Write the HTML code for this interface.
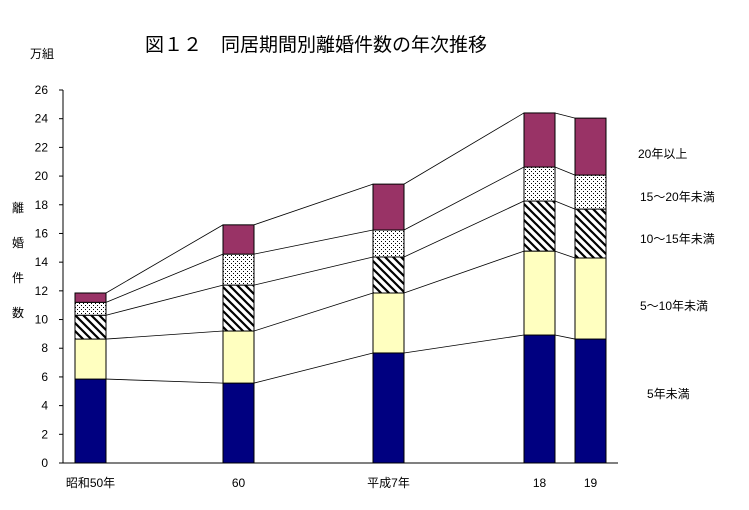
<!DOCTYPE html>
<html><head><meta charset="utf-8"><style>
body{margin:0;background:#fff}
svg text{font-family:"Liberation Sans","Noto Sans CJK JP",sans-serif;fill:#000}
</style></head><body>
<svg id="c" width="749" height="505">
<defs>
<pattern id="dots" width="4" height="4" patternUnits="userSpaceOnUse"><rect width="4" height="4" fill="#fff"/><rect x="1" y="1" width="1" height="1" fill="#000"/><rect x="3" y="3" width="1" height="1" fill="#000"/></pattern>
<pattern id="hatch" width="8" height="8" patternUnits="userSpaceOnUse"><rect width="8" height="8" fill="#fff"/><path d="M-2,-2 L10,10 M-2,6 L2,10 M6,-2 L10,2" stroke="#000" stroke-width="2.2"/></pattern>
</defs>
<text x="145" y="51" font-size="19">図１２　同居期間別離婚件数の年次推移</text>
<text x="30" y="58" font-size="12">万組</text>
<g font-size="12"><text x="12" y="212">離</text><text x="12" y="247">婚</text><text x="12" y="282">件</text><text x="12" y="317">数</text></g>
<g id="axes"></g><g id="lines"></g><g id="bars"></g>
</svg>
<script>
const categories=["昭和50年","60","平成7年","18","19"];
const lt5=[5.85,5.57,7.67,8.92,8.64];
const y5to10=[2.79,3.63,4.18,5.85,5.65];
const y10to15=[1.66,3.2,2.51,3.49,3.41];
const y15to20=[0.9,2.16,1.88,2.37,2.37];
const y20plus=[0.65,2.04,3.2,3.77,3.97];
const yTicks=[0,2,4,6,8,10,12,14,16,18,20,22,24,26];
const seriesNames=["5年未満","5～10年未満","10～15年未満","15～20年未満","20年以上"];
const series=[lt5,y5to10,y10to15,y15to20,y20plus];
const fills=["#000080","#FFFFC0","url(#hatch)","url(#dots)","#993366"];
const catX=[75,223,373,524,575];
const barW=31;
const y=v=>463-v*(373/26);
const ns="http://www.w3.org/2000/svg";
function mk(t,a,p){const e=document.createElementNS(ns,t);for(const k in a)e.setAttribute(k,a[k]);p.appendChild(e);return e;}
const axes=document.getElementById('axes'),lines=document.getElementById('lines'),bars=document.getElementById('bars');
const ax=mk('line',{x1:63,y1:y(26),x2:63,y2:463,stroke:'#000'},axes);


const bx=mk('line',{x1:63,y1:463,x2:618,y2:463,stroke:'#000'},axes);


yTicks.forEach(v=>{
 mk('line',{x1:59,x2:63,y1:y(v),y2:y(v),stroke:'#000'},axes);
 const t=mk('text',{x:48,y:y(v)+4,'font-size':12,'text-anchor':'end'},axes);t.textContent=v;
 
 
});
const cum=categories.map((c,i)=>{let s=0;return series.map(a=>s+=a[i]);});
categories.forEach((c,i)=>{
 let base=0;
 series.forEach((a,k)=>{
  const top=base+a[i];
  const r=mk('rect',{x:catX[i],y:y(top),width:barW,height:y(base)-y(top),fill:fills[k],stroke:'#000','stroke-width':1},bars);
  
  
  base=top;
 });
 const t=mk('text',{x:catX[i]+barW/2,y:487,'font-size':12,'text-anchor':'middle'},axes);t.textContent=c;
 
 
 if(i<categories.length-1){
  cum[i].forEach((v,k)=>{
   const l=mk('line',{x1:catX[i]+barW,y1:y(v),x2:catX[i+1],y2:y(cum[i+1][k]),stroke:'#000','stroke-width':0.8},lines);
   
   
  });
 }
});
const legY=[398,310,243,201,158];
seriesNames.forEach((n,k)=>{
 const t=mk('text',{x:k==0?647:(k==4?638:640),y:legY[k],'font-size':12},axes);t.textContent=n;
 
 
});
</script>
</body></html>
